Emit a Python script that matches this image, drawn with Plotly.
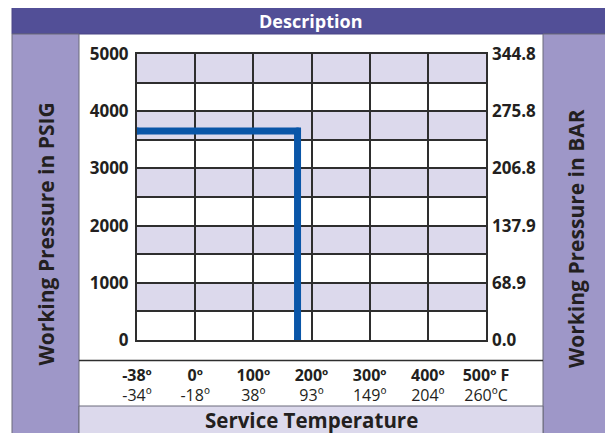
import numpy as np
import plotly.graph_objects as go

# ---- data ----
temps_F = [-38, 0, 100, 200, 300, 400, 500]
temps_C = [-34, -18, 38, 93, 149, 204, 260]
psig_ticks = [0, 1000, 2000, 3000, 4000, 5000]
bar_ticks = [0.0, 68.9, 137.9, 206.8, 275.8, 344.8]
bar_labels = ["0.0", "68.9", "137.9", "206.8", "275.8", "344.8"]
rating_temp_F = [-38, 176, 176]
rating_psig = [3655, 3655, 0]

PSI_TO_BAR = 0.0689476

# ---- layout geometry (pixels, in the page) ----
PAGE_W, PAGE_H = 613, 433
OFF = 8  # default body margin of the html page
W, H = PAGE_W - OFF, PAGE_H - OFF
PL, PR, PT, PB = 137, 486, 54, 340


def fx(px):
    return (px - PL) / (PR - PL)


def fy(py):
    return (PB - py) / (PB - PT)


positions = list(range(len(temps_F)))
line_x = np.interp(rating_temp_F, temps_F, positions)

ink = "#231f20"
grid = "#2e2e2e"
shade = "#dcd9ec"
band_dark = "#524f97"
band_mid = "#9e97c8"
line_blue = "#0a56a8"
FONT = "Open Sans"

fig = go.Figure()
fig.add_trace(go.Scatter(
    x=line_x, y=rating_psig, mode="lines+markers",
    line=dict(color=line_blue, width=7),
    marker=dict(size=7, color=line_blue, line=dict(width=0)),
    hoverinfo="skip", showlegend=False))
# invisible twins so the BAR axis and the Celsius axis render
fig.add_trace(go.Scatter(
    x=line_x, y=[p * PSI_TO_BAR for p in rating_psig], yaxis="y2",
    mode="lines", line=dict(width=0), opacity=0, hoverinfo="skip",
    showlegend=False))
fig.add_trace(go.Scatter(
    x=line_x, y=rating_psig, xaxis="x2",
    mode="lines", line=dict(width=0), opacity=0, hoverinfo="skip",
    showlegend=False))

shapes = []
# shaded half-rows
for y0 in range(500, 5000, 1000):
    shapes.append(dict(type="rect", xref="x", yref="y", x0=0, x1=6,
                       y0=y0, y1=y0 + 500, fillcolor=shade,
                       line=dict(width=0), layer="below"))
# frame panels
shapes += [
    dict(type="rect", xref="paper", yref="paper", x0=fx(12), x1=fx(609),
         y0=fy(34), y1=fy(7), fillcolor=band_dark,
         line=dict(color="#4a4785", width=1), layer="below"),
    dict(type="rect", xref="paper", yref="paper", x0=fx(12), x1=fx(79),
         y0=fy(445), y1=fy(34), fillcolor=band_mid,
         line=dict(color="#6a6a7a", width=1), layer="below"),
    dict(type="rect", xref="paper", yref="paper", x0=fx(543), x1=fx(609),
         y0=fy(445), y1=fy(34), fillcolor=band_mid,
         line=dict(color="#6a6a7a", width=1), layer="below"),
    dict(type="rect", xref="paper", yref="paper", x0=fx(79), x1=fx(543),
         y0=fy(445), y1=fy(406), fillcolor=shade,
         line=dict(color="#6a6a7a", width=1), layer="below"),
    dict(type="line", xref="paper", yref="paper", x0=fx(79), x1=fx(543),
         y0=fy(360.5), y1=fy(360.5), line=dict(color=grid, width=1.5),
         layer="below"),
]

xt_F = [f"<b>{f}º{' F' if i == len(temps_F) - 1 else ''}</b>"
        for i, f in enumerate(temps_F)]
xt_C = [f"{c}º{'C' if i == len(temps_C) - 1 else ''}"
        for i, c in enumerate(temps_C)]

annotations = [
    dict(text="Description", xref="paper", yref="paper", x=fx(310.5), y=fy(20.5),
         xanchor="center", yanchor="middle", showarrow=False,
         font=dict(family=FONT, size=18, color="white", weight="bold")),
    dict(text="Working Pressure in PSIG", xref="paper", yref="paper",
         x=fx(45.5), y=fy(234), textangle=-90, xanchor="center", yanchor="middle",
         showarrow=False, font=dict(family=FONT, size=21, color=ink, weight="bold")),
    dict(text="Working Pressure in BAR", xref="paper", yref="paper",
         x=fx(576), y=fy(239), textangle=-90, xanchor="center", yanchor="middle",
         showarrow=False, font=dict(family=FONT, size=21, color=ink, weight="bold")),
    dict(text="Service Temperature", xref="paper", yref="paper",
         x=fx(311), y=fy(420), xanchor="center", yanchor="middle",
         showarrow=False, font=dict(family=FONT, size=20.5, color=ink, weight="bold")),
]

fig.update_layout(
    width=W, height=H, autosize=False,
    margin=dict(l=PL - OFF, r=PAGE_W - PR, t=PT - OFF, b=PAGE_H - PB, pad=0),
    paper_bgcolor="white", plot_bgcolor="rgba(0,0,0,0)",
    shapes=shapes, annotations=annotations, showlegend=False,
    font=dict(family=FONT, color=ink),
    xaxis=dict(range=[0, 6], tickmode="array", tickvals=positions, ticktext=xt_F,
               showgrid=True, gridcolor=grid, gridwidth=1.5, zeroline=False,
               showline=True, mirror=True, linecolor=grid, linewidth=2,
               ticks="", ticklabelstandoff=20,
               tickfont=dict(family=FONT, size=16, color=ink), fixedrange=True),
    xaxis2=dict(range=[0, 6], overlaying="x", side="bottom", anchor="y",
                tickmode="array", tickvals=positions, ticktext=xt_C,
                showgrid=False, zeroline=False, showline=False,
                ticks="", ticklabelstandoff=44,
                tickfont=dict(family=FONT, size=16, color=ink), fixedrange=True),
    yaxis=dict(range=[0, 5000], tickmode="array", tickvals=psig_ticks,
               ticktext=[str(v) for v in psig_ticks],
               showgrid=True, gridcolor=grid, gridwidth=1.5, zeroline=False,
               minor=dict(tickvals=list(range(500, 5000, 1000)), showgrid=True,
                          gridcolor=grid, gridwidth=1.5, ticks=""),
               showline=True, mirror=True, linecolor=grid, linewidth=2,
               ticks="", ticklabelstandoff=3,
               tickfont=dict(family=FONT, size=17, color=ink, weight="bold"),
               fixedrange=True),
    yaxis2=dict(range=[0, 344.8], overlaying="y", side="right", tickmode="array",
                tickvals=bar_ticks, ticktext=bar_labels, showgrid=False,
                zeroline=False, ticks="", ticklabelstandoff=5,
                tickfont=dict(family=FONT, size=17, color=ink, weight="bold"),
                fixedrange=True),
)

fig.write_html("out.html")
